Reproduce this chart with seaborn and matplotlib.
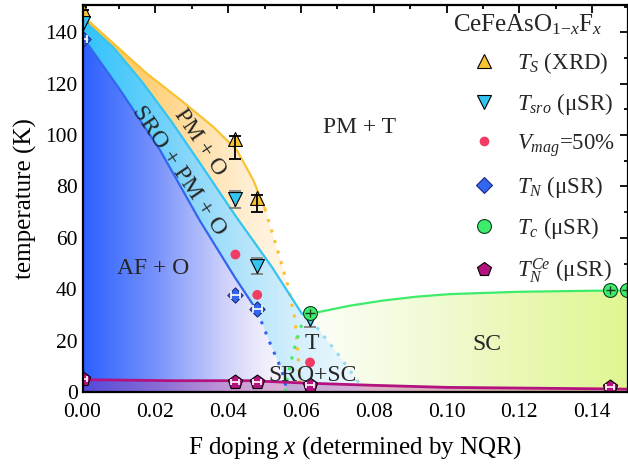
import numpy as np
import pandas as pd
import matplotlib
matplotlib.use("Agg")
import matplotlib.pyplot as plt
import seaborn as sns
from matplotlib.path import Path
from matplotlib.patches import PathPatch
from matplotlib.lines import Line2D
from matplotlib.ticker import MultipleLocator

# ---------------- measured transition temperatures ----------------
x_ts = [0.0, 0.042, 0.048]              # structural transition (XRD)
t_ts = [148.5, 98.5, 75.5]
ts_err_lo = [0.0, 8.0, 5.6]
ts_err_hi = [0.0, 1.0, 1.0]

x_sro = [0.0, 0.042, 0.048, 0.0625]     # short-range order (muSR)
t_sro = [143.5, 75.0, 49.0, 28.5]
sro_err = [0.0, 3.4, 3.2, 3.2]

x_vmag = [0.042, 0.048, 0.0625]         # 50 % magnetic volume fraction
t_vmag = [53.5, 37.8, 11.5]

x_tn = [0.0, 0.042, 0.048]              # Neel temperature (muSR)
t_tn = [137.3, 37.7, 32.2]

x_tc = [0.0625, 0.145, 0.1495]          # superconducting Tc (muSR)
t_tc = [30.6, 39.6, 39.6]

x_tnce = [0.0, 0.042, 0.048, 0.0625, 0.145]   # Ce ordering
t_tnce = [4.9, 4.0, 4.0, 2.7, 2.0]

# ---------------- phase boundaries (guides to the eye) ----------------
ts_line_x = [0.0, 0.0085, 0.0176, 0.0268, 0.0359, 0.0424, 0.0469, 0.0501]
ts_line_t = [146.5, 135.6, 124.0, 113.8, 103.2, 94.1, 82.5, 71.4]
ts_dot_x = [0.0501, 0.0538, 0.0565, 0.0584, 0.0593, 0.0598]
ts_dot_t = [71.4, 54.1, 41.0, 28.0, 12.4, 0.0]

sro_line_x = [0.0, 0.0085, 0.0163, 0.0243, 0.0323, 0.0419, 0.0520, 0.0602, 0.0625]
sro_line_t = [145.0, 134.0, 120.8, 105.5, 89.0, 68.8, 48.7, 30.6, 28.5]
sro_dot_x = [0.0625, 0.0695, 0.0770]
sro_dot_t = [28.5, 16.0, 1.5]

tn_line_x = [0.0, 0.0103, 0.0213, 0.0323, 0.0419, 0.0480]
tn_line_t = [138.2, 117.6, 94.1, 66.5, 44.5, 31.5]
tn_dot_x = [0.0480, 0.0512, 0.0547, 0.0560]
tn_dot_t = [31.5, 20.0, 8.6, 1.5]

tc_line_x = [0.0625, 0.0645, 0.0735, 0.0826, 0.0918, 0.1010, 0.1200, 0.1400, 0.1500]
tc_line_t = [30.0, 31.0, 33.6, 35.6, 37.1, 38.1, 39.0, 39.4, 39.5]
tc_dot_x = [0.0625, 0.0600, 0.0578, 0.0562, 0.0556]
tc_dot_t = [29.0, 25.5, 15.0, 5.0, 0.5]

tnce_line_x = [0.0, 0.025, 0.046, 0.0625, 0.080, 0.100, 0.145, 0.150]
tnce_line_t = [4.8, 4.4, 4.4, 3.4, 2.6, 1.8, 1.2, 1.1]

# ---------------- styling ----------------
sns.set_theme(style="ticks")
plt.rcParams["font.family"] = ["Liberation Serif", "DejaVu Serif"]
plt.rcParams["mathtext.fontset"] = "custom"
plt.rcParams["mathtext.rm"] = "Liberation Serif"
plt.rcParams["mathtext.it"] = "Liberation Serif:italic"
plt.rcParams["mathtext.bf"] = "Liberation Serif:bold"
plt.rcParams["axes.linewidth"] = 1.6

C_TS = "#f9c233"
C_SRO = "#33c4f2"
C_VMAG = "#f23c64"
C_TN = "#3366ee"
C_TC = "#3cec6a"
C_CE = "#b3127f"

XMAX, YMAX = 0.1497, 150.6

fig = plt.figure(figsize=(6.28, 4.66), dpi=100)
ax = fig.add_axes([82.5 / 628, 1 - 392 / 466, 545 / 628, 387 / 466])
ax.set_xlim(0, XMAX)
ax.set_ylim(0, YMAX)


def gradient_fill(xs, ts, stops, z):
    """Fill the polygon (xs, ts) with a horizontal colour gradient."""
    sx = [s[0] for s in stops]
    grid = np.linspace(0, XMAX, 600)
    img = np.ones((1, grid.size, 4))
    for c in range(3):
        img[0, :, c] = np.interp(grid, sx, [s[1][c] / 255 for s in stops])
    verts = list(zip(xs, ts)) + [(xs[0], ts[0])]
    codes = [Path.MOVETO] + [Path.LINETO] * (len(verts) - 2) + [Path.CLOSEPOLY]
    patch = PathPatch(Path(verts, codes), transform=ax.transData,
                      facecolor="none", edgecolor="none")
    ax.add_patch(patch)
    im = ax.imshow(img, extent=[0, XMAX, 0, YMAX], aspect="auto",
                   interpolation="bilinear", origin="lower", zorder=z)
    im.set_clip_path(patch)


# superconducting dome region
sc_x = tc_dot_x[::-1] + tc_line_x[1:] + [XMAX, tc_dot_x[-1]]
sc_t = tc_dot_t[::-1] + tc_line_t[1:] + [0.0, 0.0]
gradient_fill(sc_x, sc_t, [(0.0, (255, 255, 255)), (0.056, (255, 255, 255)),
                           (0.08, (246, 252, 230)), (0.10, (239, 250, 208)),
                           (0.12, (233, 248, 180)), (0.15, (224, 246, 145))], 1.0)

# PM + O (orthorhombic) band
o_x = ts_line_x + ts_dot_x[1:] + [0.0]
o_t = ts_line_t + ts_dot_t[1:] + [0.0]
gradient_fill(o_x, o_t, [(0.0, (255, 190, 55)), (0.015, (255, 205, 110)),
                         (0.03, (255, 222, 165)), (0.045, (255, 238, 210)),
                         (0.06, (255, 248, 238)), (0.15, (255, 255, 255))], 1.1)

# SRO + PM + O band
s_x = sro_line_x + sro_dot_x[1:] + [sro_dot_x[-1], 0.0]
s_t = sro_line_t + sro_dot_t[1:] + [0.0, 0.0]
gradient_fill(s_x, s_t, [(0.0, (50, 195, 250)), (0.015, (90, 205, 250)),
                         (0.03, (140, 215, 250)), (0.045, (182, 229, 251)),
                         (0.06, (215, 240, 252)), (0.078, (240, 250, 254)),
                         (0.15, (255, 255, 255))], 1.2)

# AF + O region
a_x = tn_line_x + tn_dot_x[1:] + [tn_dot_x[-1], 0.0]
a_t = tn_line_t + tn_dot_t[1:] + [0.0, 0.0]
gradient_fill(a_x, a_t, [(0.0, (45, 95, 255)), (0.01, (80, 122, 253)),
                         (0.02, (120, 146, 251)), (0.03, (165, 180, 250)),
                         (0.04, (210, 212, 250)), (0.05, (240, 238, 252)),
                         (0.056, (250, 248, 253)), (0.15, (255, 255, 255))], 1.3)

# Ce ordered region (translucent overlay)
ax.fill_between(tnce_line_x, tnce_line_t, 0, color="#a51e8c", alpha=0.33,
                lw=0, zorder=1.4)

# ---------------- boundary lines ----------------
def guide(xs, ts, color, dotted=False, lw=1.6):
    df = pd.DataFrame({"x": xs, "t": ts})
    kw = dict(linestyle=(0, (1, 2.6)), lw=2.2) if dotted else dict(lw=lw)
    sns.lineplot(data=df, x="x", y="t", sort=False, estimator=None,
                 color=color, ax=ax, zorder=2, **kw)


guide(ts_line_x, ts_line_t, C_TS)
guide(ts_dot_x, ts_dot_t, C_TS, dotted=True)
guide(sro_line_x, sro_line_t, C_SRO)
guide(sro_dot_x, sro_dot_t, "#94daf2", dotted=True)
guide(tn_line_x, tn_line_t, C_TN)
guide(tn_dot_x, tn_dot_t, C_TN, dotted=True)
guide(tc_line_x, tc_line_t, C_TC)
guide(tc_dot_x, tc_dot_t, C_TC, dotted=True)
guide(tnce_line_x, tnce_line_t, C_CE, lw=2.0)

# ---------------- data points ----------------
ax.errorbar(x_sro, t_sro, yerr=sro_err, fmt="none", ecolor="#808080",
            elinewidth=1.3, capsize=4, capthick=1.3, zorder=4)

sns.scatterplot(x=x_ts, y=t_ts, marker="^", s=100, color=C_TS,
                edgecolor="black", linewidth=0.8, ax=ax, zorder=5, legend=False)
sns.scatterplot(x=x_sro, y=t_sro, marker="v", s=100, color=C_SRO,
                edgecolor="black", linewidth=0.8, ax=ax, zorder=5, legend=False)
sns.scatterplot(x=x_vmag, y=t_vmag, marker="o", s=50, color=C_VMAG,
                edgecolor="none", linewidth=0, ax=ax, zorder=5, legend=False)
sns.scatterplot(x=x_tn, y=t_tn, marker="D", s=60, color=C_TN,
                edgecolor="#1a2a80", linewidth=0.8, ax=ax, zorder=5, legend=False)
sns.scatterplot(x=x_tc, y=t_tc, marker="o", s=100, color=C_TC,
                edgecolor="#104020", linewidth=0.8, ax=ax, zorder=5, legend=False)
sns.scatterplot(x=x_tnce, y=t_tnce, marker="p", s=115, color=C_CE,
                edgecolor="black", linewidth=0.8, ax=ax, zorder=5, legend=False)

ax.errorbar(x_ts, t_ts, yerr=[ts_err_lo, ts_err_hi], fmt="none", ecolor="black",
            elinewidth=1.3, capsize=4, capthick=1.3, zorder=6)
ax.errorbar(x_tn, t_tn, xerr=0.0013, fmt="none", ecolor="white",
            elinewidth=1.2, capsize=3, capthick=1.2, zorder=6)
ax.errorbar(x_tnce, t_tnce, xerr=0.0011, fmt="none", ecolor="white",
            elinewidth=1.2, capsize=2.5, capthick=1.2, zorder=6)
ax.errorbar(x_tc, t_tc, xerr=0.0013, yerr=1.6, fmt="none", ecolor="#1e3a24",
            elinewidth=1.0, zorder=6)

# ---------------- phase labels ----------------
lab = dict(fontsize=17, ha="center", va="center", zorder=7)
ax.text(0.0762, 102.8, "PM + T", **lab)
ax.text(0.0322, 97.0, "PM + O", rotation=-56, rotation_mode="anchor", **lab)
ax.text(0.0264, 86.0, "SRO + PM + O", rotation=-56, rotation_mode="anchor",
        fontsize=17.5, ha="center", va="center", zorder=7)
ax.text(0.0195, 48.2, "AF + O", **lab)
ax.text(0.0630, 19.0, "T", **lab)
ax.text(0.0632, 6.6, "SRO+SC", **lab)
ax.text(0.1111, 18.3, "SC", **lab)

# ---------------- axes ----------------
ax.xaxis.set_major_locator(MultipleLocator(0.02))
ax.xaxis.set_minor_locator(MultipleLocator(0.01))
ax.yaxis.set_major_locator(MultipleLocator(20))
ax.yaxis.set_minor_locator(MultipleLocator(10))
ax.xaxis.set_major_formatter(matplotlib.ticker.FormatStrFormatter("%.2f"))
ax.tick_params(which="both", direction="in", top=True, right=True,
               width=1.3, labelsize=15.5, color="black", labelcolor="black")
ax.tick_params(which="major", length=5.5)
ax.tick_params(which="minor", length=3.0)
ax.tick_params(axis="x", pad=8)
for sp in ax.spines.values():
    sp.set_color("black")
    sp.set_linewidth(1.6)
    sp.set_zorder(10)
ax.set_xlabel("F doping $x$ (determined by NQR)", fontsize=18, labelpad=9,
              color="black")
ax.set_ylabel("temperature (K)", fontsize=18, labelpad=6, color="black")

# ---------------- legend ----------------
ax.text(0.8174, 0.948, r"CeFeAsO$_{1\mathrm{-}x}$F$_x$", transform=ax.transAxes,
        fontsize=18, ha="center", va="center", zorder=12)
handles = [
    Line2D([], [], ls="none", marker="^", ms=10, mfc=C_TS, mec="black", mew=0.8),
    Line2D([], [], ls="none", marker="v", ms=10, mfc=C_SRO, mec="black", mew=0.8),
    Line2D([], [], ls="none", marker="o", ms=7, mfc=C_VMAG, mec="none"),
    Line2D([], [], ls="none", marker="D", ms=7.7, mfc=C_TN, mec="#1a2a80", mew=0.8),
    Line2D([], [], ls="none", marker="o", ms=10, mfc=C_TC, mec="#104020", mew=0.8),
    Line2D([], [], ls="none", marker="p", ms=10.5, mfc=C_CE, mec="black", mew=0.8),
]
labels = [r"$T_S$ (XRD)", r"$T_{sro}$ (μSR)", r"$V_{mag}$=50%",
          r"$T_N$ (μSR)", r"$T_c$ (μSR)", r"$T_N^{Ce}$ (μSR)"]
leg = ax.legend(handles, labels, loc="upper left",
                bbox_to_anchor=(0.6732, 0.938), frameon=False,
                fontsize=16.5, labelspacing=0.66,
                handletextpad=0.84, handlelength=1.2, borderpad=0.4)
leg.set_zorder(12)

fig.savefig("out.png", dpi=100)
